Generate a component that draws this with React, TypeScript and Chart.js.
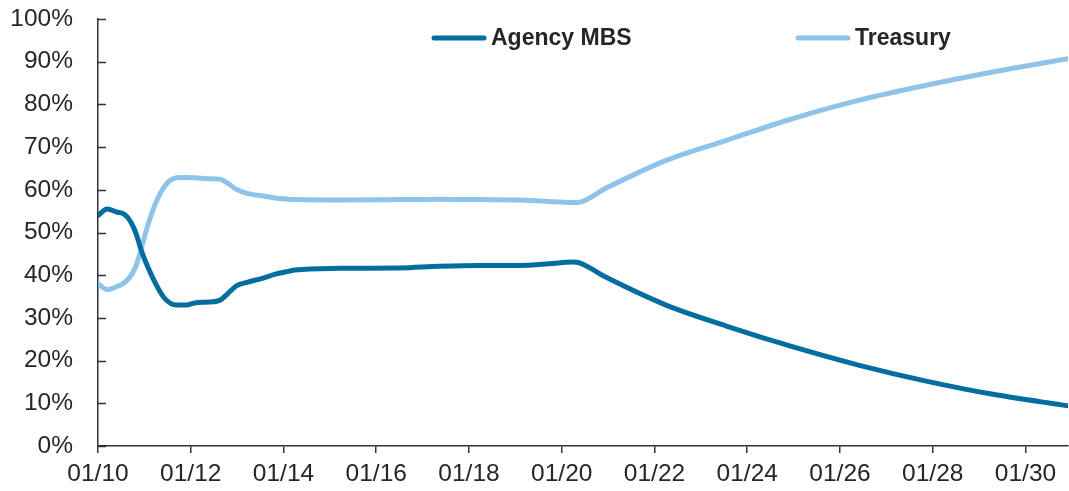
import React, { useEffect, useRef } from "react";
import { Chart, registerables } from "chart.js";

Chart.register(...registerables);

// Month index counted from Jan 2010 (0 = 01/10)
const MONTHS = [
  0, 2.4, 4.8, 6.9, 8.6, 9.9, 11.2, 12.9, 14.7, 17.3, 20.3, 22.9, 25, 28.5, 31.5, 33.6,
  35.8, 38.8, 42.3, 45.7, 49.2, 50.9, 62.5, 78, 88.4, 98.8, 109, 115.6, 122.8, 124.6,
  131.5, 147, 162.6, 179.9, 197, 214.3, 231.6, 251,
];

const AGENCY_MBS = [
  54.0, 55.5, 54.8, 54.2, 52.3, 49.6, 45.8, 41.9, 38.4, 34.5, 33.0, 33.0, 33.5, 33.7, 34.1, 35.7,
  37.5, 38.4, 39.2, 40.2, 40.9, 41.2, 41.6, 41.7, 42.1, 42.3, 42.3, 42.6, 43.1, 42.9,
  39.5, 33.0, 28.1, 23.2, 18.9, 15.2, 12.1, 9.4,
];

const TREASURY = [
  38.0, 36.6, 37.3, 38.3, 40.0, 42.3, 46.3, 51.7, 56.4, 60.9, 62.8, 62.9, 62.8, 62.6, 62.5, 61.5,
  60.1, 59.1, 58.6, 58.1, 57.8, 57.7, 57.6, 57.7, 57.8, 57.7, 57.6, 57.3, 57.0, 57.1,
  60.4, 66.9, 71.6, 76.7, 81.0, 84.5, 87.6, 90.7,
];

const SERIES_NAMES = ["Agency MBS", "Treasury"];
const SERIES_COLORS = ["#046da0", "#90c3ea"];

const X_TICK_MONTHS = [0, 24, 48, 72, 96, 120, 144, 168, 192, 216, 240];
const X_TICK_LABELS = ["01/10", "01/12", "01/14", "01/16", "01/18", "01/20", "01/22", "01/24", "01/26", "01/28", "01/30"];
const X_MAX = 251;

const Y_MIN = 0;
const Y_MAX = 100;
const Y_STEP = 10;

const FONT_FAMILY = '"Liberation Sans", Arial, Helvetica, sans-serif';
const TEXT_COLOR = "#262626";
const AXIS_COLOR = "#333333";

const LEGEND_LINE_X = [434, 798];

const overlayPlugin = {
  id: "overlay",
  afterDraw(chart: any) {
    const ctx = chart.ctx as CanvasRenderingContext2D;
    const area = chart.chartArea;
    ctx.save();
    // inward y tick marks
    const ys = chart.scales.y;
    ctx.strokeStyle = AXIS_COLOR;
    ctx.lineWidth = 1.5;
    ctx.beginPath();
    ys.ticks.forEach((t: any) => {
      const py = Math.round(ys.getPixelForValue(t.value)) + 0.5;
      ctx.moveTo(area.left, py);
      ctx.lineTo(area.left + 8, py);
    });
    ctx.stroke();
    // legend
    chart.data.datasets.forEach((ds: any, i: number) => {
      const x = LEGEND_LINE_X[i];
      ctx.strokeStyle = ds.borderColor;
      ctx.lineWidth = 5;
      ctx.lineCap = "round";
      ctx.beginPath();
      ctx.moveTo(x, 38);
      ctx.lineTo(x + 50, 38);
      ctx.stroke();
      ctx.fillStyle = TEXT_COLOR;
      ctx.font = `bold 23px ${FONT_FAMILY}`;
      ctx.textBaseline = "alphabetic";
      ctx.textAlign = "left";
      ctx.fillText(ds.label, x + 57, 45);
    });
    ctx.restore();
  },
};

export default function App() {
  const canvasRef = useRef<HTMLCanvasElement | null>(null);

  useEffect(() => {
    if (!canvasRef.current) return;
    const mk = (vals: number[]) => MONTHS.map((m, i) => ({ x: m, y: vals[i] }));
    const chart = new Chart(canvasRef.current, {
      type: "line",
      data: {
        datasets: [
          {
            label: SERIES_NAMES[0],
            data: mk(AGENCY_MBS),
            borderColor: SERIES_COLORS[0],
            backgroundColor: SERIES_COLORS[0],
            borderWidth: 5,
            pointRadius: 0,
            cubicInterpolationMode: "monotone",
            borderCapStyle: "round",
            borderJoinStyle: "round",
          },
          {
            label: SERIES_NAMES[1],
            data: mk(TREASURY),
            borderColor: SERIES_COLORS[1],
            backgroundColor: SERIES_COLORS[1],
            borderWidth: 5,
            pointRadius: 0,
            cubicInterpolationMode: "monotone",
            borderCapStyle: "round",
            borderJoinStyle: "round",
          },
        ],
      },
      options: {
        animation: false,
        responsive: false,
        layout: { padding: { top: 19, right: 1, bottom: 0, left: 0 } },
        plugins: {
          legend: { display: false },
          tooltip: { enabled: false },
        },
        scales: {
          x: {
            type: "linear",
            min: 0,
            max: X_MAX,
            afterBuildTicks: (s: any) => {
              s.ticks = X_TICK_MONTHS.map((v) => ({ value: v }));
            },
            afterFit: (s: any) => {
              s.height = 45;
              s.paddingLeft = 0;
              s.paddingRight = 0;
            },
            grid: {
              display: true,
              drawOnChartArea: false,
              drawTicks: true,
              tickLength: 7,
              color: AXIS_COLOR,
              lineWidth: 1.5,
            },
            border: { display: true, color: AXIS_COLOR, width: 1.5 },
            ticks: {
              autoSkip: false,
              maxRotation: 0,
              padding: 7,
              color: TEXT_COLOR,
              font: { family: FONT_FAMILY, size: 24.5 },
              callback: (v: any) => {
                const idx = X_TICK_MONTHS.indexOf(Number(v));
                return idx >= 0 ? X_TICK_LABELS[idx] : "";
              },
            },
          },
          y: {
            min: Y_MIN,
            max: Y_MAX,
            afterFit: (s: any) => {
              s.width = 98;
              s.paddingTop = 0;
              s.paddingBottom = 0;
            },
            grid: { display: false, drawTicks: false },
            border: { display: true, color: AXIS_COLOR, width: 1.5 },
            ticks: {
              stepSize: Y_STEP,
              padding: 25,
              color: TEXT_COLOR,
              font: { family: FONT_FAMILY, size: 24.5 },
              callback: (v: any) => `${v}%`,
            },
          },
        },
      },
      plugins: [overlayPlugin],
    });
    return () => chart.destroy();
  }, []);

  return (
    <div style={{ position: "fixed", left: 0, top: 0, width: 1069, height: 491, background: "#fff" }}>
      <canvas ref={canvasRef} width={1069} height={491} style={{ display: "block" }} />
    </div>
  );
}
